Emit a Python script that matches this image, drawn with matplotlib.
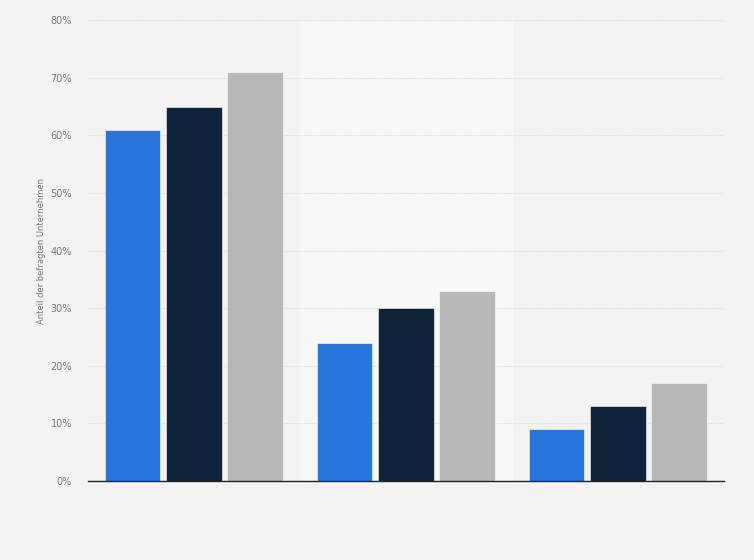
import numpy as np
import matplotlib.pyplot as plt

# three groups, three series (no category labels visible in the chart)
groups = ['', '', '']
series_a = [61, 24, 9]
series_b = [65, 30, 13]
series_c = [71, 33, 17]
y_ticks = [0, 10, 20, 30, 40, 50, 60, 70, 80]

colors = ['#2876dd', '#0f243b', '#b7b7b7']
bg = '#f3f3f3'

fig = plt.figure(figsize=(7.54, 5.6), dpi=100, facecolor=bg)
ax = fig.add_axes([0.1167, 0.141, 0.8435, 0.823])
ax.set_facecolor(bg)

x = np.arange(len(groups))
width = 0.26
offset = 0.288

# lighter band behind the middle group
ax.axvspan(0.5, 1.5, color='#f8f8f8', zorder=0)

for i, (vals, col) in enumerate(zip([series_a, series_b, series_c], colors)):
    ax.bar(x + (i - 1) * offset, vals, width, color=col, zorder=3,
           edgecolor='white', linewidth=0.4)

ax.set_xlim(-0.5, 2.5)
ax.set_ylim(0, 80)
ax.set_yticks(y_ticks)
ax.set_yticklabels([f'{t}%' for t in y_ticks])
ax.set_xticks([])

ax.grid(axis='y', color='#dcdcdc', linestyle=(0, (1, 1)), linewidth=0.8, zorder=1)
for s in ['top', 'right', 'left']:
    ax.spines[s].set_visible(False)
ax.spines['bottom'].set_color('#222222')
ax.spines['bottom'].set_linewidth(1.0)
ax.spines['bottom'].set_zorder(4)

ax.tick_params(axis='y', length=0, labelsize=7, labelcolor='#777777', pad=11.5)
ax.set_ylabel('Anteil der befragten Unternehmen', fontsize=6, color='#777777')
ax.yaxis.set_label_coords(-0.066, 0.5)

plt.savefig('out.png', dpi=100, facecolor=bg)
